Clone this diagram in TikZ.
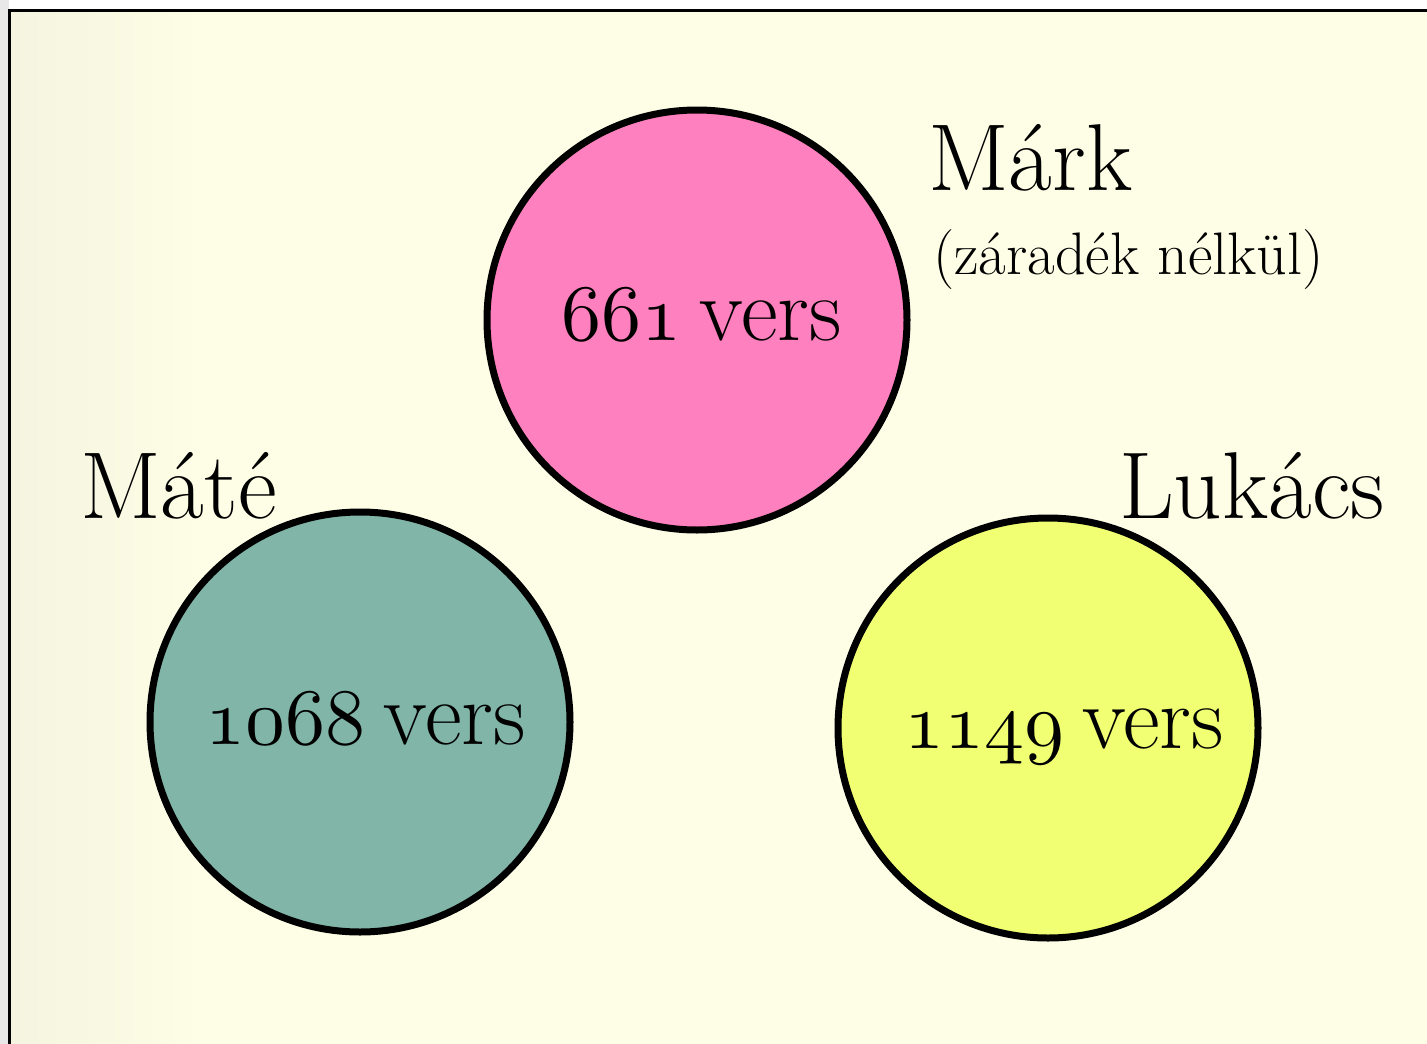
\documentclass[tikz,border=0pt]{standalone}
\usepackage{fontspec}
\font\osnfont=cmmi10 at 80pt
\newcommand\osn[1]{{\osnfont #1}}
\definecolor{bgyellow}{HTML}{FEFEE6}
\definecolor{bgleft}{HTML}{F4F4E0}
\definecolor{pinkc}{HTML}{FF80BF}
\definecolor{tealc}{HTML}{80B5A8}
\definecolor{yellowc}{HTML}{F1FF73}
\tikzset{
  gospel/.style={circle, draw=black, line width=7pt, minimum size=420pt, inner sep=0pt},
  count/.style={font=\fontsize{90}{100}\selectfont, inner sep=0pt, anchor=base},
  title/.style={font=\fontsize{95}{110}\selectfont, inner sep=0pt},
  subtitle/.style={font=\fontsize{60}{70}\selectfont, inner sep=0pt}
}
\begin{document}
\begin{tikzpicture}[x=1pt,y=-1pt]
\useasboundingbox (0,0) rectangle (1427,1044);
\fill[black!9] (0,0) rectangle (9,1044);
\fill[white] (9,0) rectangle (1427,10);
\fill[bgyellow] (9,10) rectangle (1427,1044);
\shade[left color=bgleft, right color=bgyellow] (9,10) rectangle (200,1044);
\draw[line width=3pt] (1440,10.5) -- (9.5,10.5) -- (9.5,1060);

\node[gospel, fill=pinkc] (mark) at (697,320) {};
\node[gospel, fill=tealc] (mate) at (360,722) {};
\node[gospel, fill=yellowc] (lukacs) at (1048,728) {};

\node[count] (markn) at (702,340) {\osn{661}\hspace{0.2em}vers};
\node[count] (maten) at (366,744) {\osn{1068}\hspace{0.2em}vers};
\node[count] (lukacsn) at (1064,748) {\osn{1149}\hspace{0.2em}vers};

\node[title, anchor=base west] (markt) at (928,190) {Márk};
\node[subtitle, anchor=base west] (markst) at (933,274) {(záradék nélkül)};
\node[title, anchor=base west] (matet) at (80,518) {Máté};
\node[title, anchor=base east] (lukacst) at (1385,518) {Lukács};
\end{tikzpicture}
\end{document}
